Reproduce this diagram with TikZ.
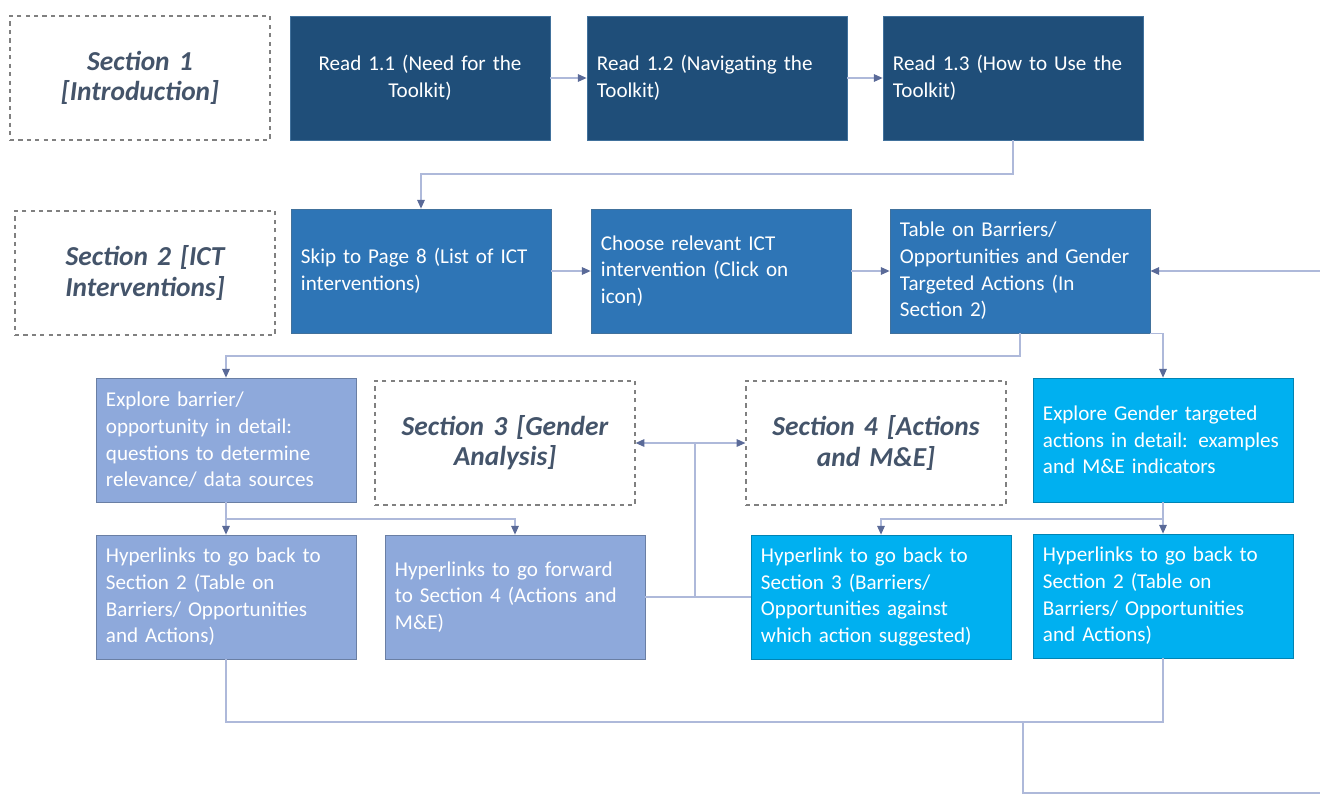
\documentclass[tikz,border=0pt]{standalone}
\usepackage{fontspec}
\setmainfont{Carlito}
\usetikzlibrary{arrows.meta}
\definecolor{navy}{HTML}{1F4E79}
\definecolor{midblue}{HTML}{2E75B6}
\definecolor{steel}{HTML}{8EA9DB}
\definecolor{cyanbox}{HTML}{00B0F0}
\definecolor{edgeblue}{HTML}{41719C}
\definecolor{linkline}{HTML}{AEB9DA}
\definecolor{tipcol}{HTML}{5A6A98}
\definecolor{secttext}{HTML}{44546A}
\newcommand\boxfont{\fontsize{15}{19}\selectfont\hyphenpenalty=10000\relax}
\begin{document}
\begin{tikzpicture}[x=0.025cm,y=-0.025cm,
  box/.style={rectangle,draw=edgeblue,line width=0.5pt,text=white,
    minimum width=6.5cm,minimum height=3.1cm,text width=6cm,inner xsep=0.25cm,
    align=left,font=\boxfont},
  lvlone/.style={box,fill=navy},
  lvltwo/.style={box,fill=midblue},
  lvlthree/.style={box,fill=steel,draw=steel!75!black},
  lvlfour/.style={box,fill=cyanbox,draw=cyanbox!75!black},
  sect/.style={rectangle,draw=gray,dashed,line width=0.8pt,text=secttext,
    minimum width=6.5cm,minimum height=3.1cm,text width=5.85cm,inner xsep=0.325cm,
    align=center,font=\fontsize{19.5}{21.5}\selectfont\bfseries\itshape},
  link/.style={draw=linkline,line width=0.9pt},
  arr/.style={link,-{Triangle[length=2.2mm,width=1.9mm,color=tipcol]}}]
\useasboundingbox (0,0) rectangle (1320,796);
\node[sect] (sec1) at (140,78) {Section 1\\{[}Introduction{]}};
\node[lvlone,align=center] (read11) at (420,78) {Read 1.1 (Need for the\\ Toolkit)};
\node[lvlone] (read12) at (717,78) {Read 1.2 (Navigating the\\ Toolkit)};
\node[lvlone] (read13) at (1013,78) {Read 1.3 (How to Use the\\ Toolkit)};
\node[sect] (sec2) at (145,273) {Section 2 {[}ICT\\ Interventions{]}};
\node[lvltwo] (skip) at (421,271) {Skip to Page 8 (List of ICT\\ interventions)};
\node[lvltwo] (choose) at (721,271) {Choose relevant ICT\\ intervention (Click on\\ icon)};
\node[lvltwo] (table) at (1020,271) {Table on Barriers/\\ Opportunities and Gender\\ Targeted Actions (In\\ Section 2)};
\node[lvlthree] (explore) at (226,440) {Explore barrier/\\ opportunity in detail:\\ questions to determine\\ relevance/ data sources};
\node[sect] (sec3) at (505,443) {Section 3 {[}Gender\\ Analysis{]}};
\node[sect] (sec4) at (876,443) {Section 4 {[}Actions\\ and M\&E{]}};
\node[lvlfour] (gendet) at (1163,440) {Explore Gender targeted\\ actions in detail: examples\\ and M\&E indicators};
\node[lvlthree] (back2) at (226,597) {Hyperlinks to go back to\\ Section 2 (Table on\\ Barriers/ Opportunities\\ and Actions)};
\node[lvlthree] (fwd4) at (515,597) {Hyperlinks to go forward\\ to Section 4 (Actions and\\ M\&E)};
\node[lvlfour] (back3) at (881,597) {Hyperlink to go back to\\ Section 3 (Barriers/\\ Opportunities against\\ which action suggested)};
\node[lvlfour] (back2b) at (1163,596) {Hyperlinks to go back to\\ Section 2 (Table on\\ Barriers/ Opportunities\\ and Actions)};
\coordinate (turn1) at (421,174);
\coordinate (turn2) at (226,356);
\coordinate (split3) at (226,519);
\coordinate (split4) at (1163,519);
\coordinate (mid) at (695,597);
\coordinate (up) at (695,443);
\coordinate (low) at (1023,722);
\coordinate (corner) at (1335,793);
\draw[arr] (read11) -- (read12);
\draw[arr] (read12) -- (read13);
\draw[arr] (read13.south) |- (turn1) -- (skip.north);
\draw[arr] (skip) -- (choose);
\draw[arr] (choose) -- (table);
\draw[arr] (table.south) |- (turn2) -- (explore.north);
\draw[arr] (table.south east) -| (gendet.north);
\draw[arr] (explore.south) -- (split3) -| (fwd4.north);
\draw[arr] (split3) -- (back2.north);
\draw[arr] (gendet.south) -- (split4) -| (back3.north);
\draw[arr] (split4) -- (back2b.north);
\draw[link] (fwd4.east) -- (back3.west);
\draw[link] (mid) -- (up);
\draw[arr] (up) -- (sec3.east);
\draw[arr] (up) -- (sec4.west);
\draw[link] (back2.south) |- (low) -| (back2b.south);
\draw[arr] (low) |- (corner) |- (table.east);
\end{tikzpicture}
\end{document}
